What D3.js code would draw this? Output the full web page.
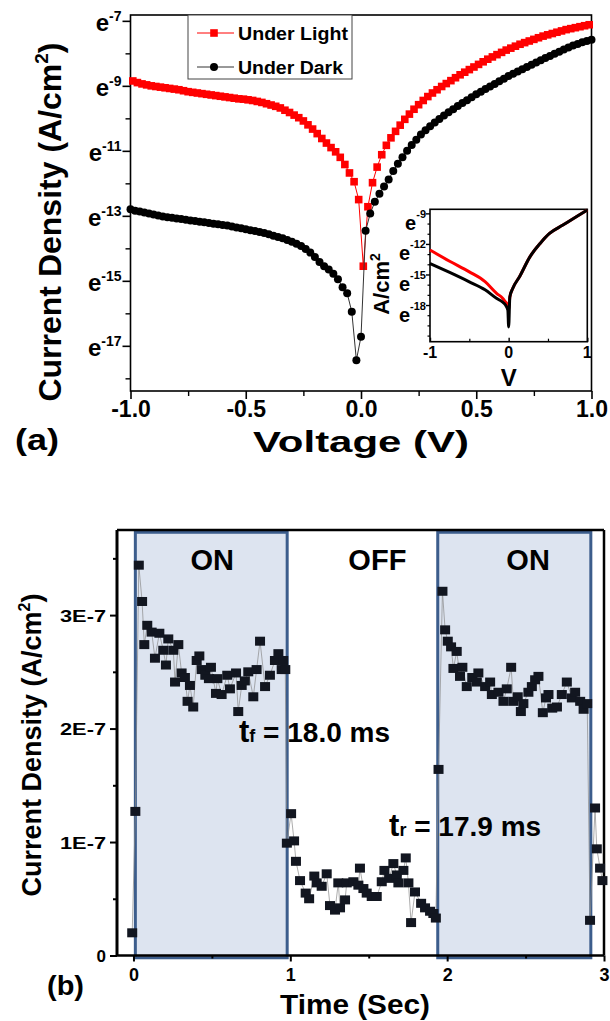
<!DOCTYPE html>
<html><head><meta charset="utf-8">
<script src="https://cdn.jsdelivr.net/npm/d3@7"></script>
<style>
body{margin:0;background:#fff}
text{font-family:Arial,"Liberation Sans",sans-serif;font-weight:bold;fill:#000}
</style>
</head><body>
<svg id="c" width="610" height="1021"></svg>
<script>
// ---------- Panel (a) data: J-V (natural-log exponent of current density) ----------
const lightV = [-0.99,-0.97,-0.95,-0.93,-0.91,-0.89,-0.87,-0.85,-0.83,-0.81,-0.79,-0.77,-0.75,-0.73,-0.71,-0.69,-0.67,-0.65,-0.63,-0.61,-0.59,-0.57,-0.55,-0.53,-0.51,-0.49,-0.47,-0.45,-0.43,-0.41,-0.39,-0.37,-0.35,-0.33,-0.31,-0.29,-0.27,-0.25,-0.23,-0.21,-0.19,-0.17,-0.15,-0.13,-0.11,-0.09,-0.07,-0.05,-0.03,-0.01,0.01,0.03,0.05,0.07,0.09,0.11,0.13,0.15,0.17,0.19,0.21,0.23,0.25,0.27,0.29,0.31,0.33,0.35,0.37,0.39,0.41,0.43,0.45,0.47,0.49,0.51,0.53,0.55,0.57,0.59,0.61,0.63,0.65,0.67,0.69,0.71,0.73,0.75,0.77,0.79,0.81,0.83,0.85,0.87,0.89,0.91,0.93,0.95,0.97,0.99];
const lightExp = [-8.85,-8.90,-8.94,-8.97,-9.00,-9.02,-9.04,-9.06,-9.08,-9.10,-9.12,-9.15,-9.18,-9.20,-9.22,-9.24,-9.26,-9.28,-9.30,-9.32,-9.34,-9.36,-9.38,-9.40,-9.41,-9.43,-9.45,-9.48,-9.51,-9.55,-9.59,-9.63,-9.68,-9.75,-9.82,-9.90,-9.98,-10.08,-10.20,-10.33,-10.47,-10.62,-10.76,-10.90,-11.03,-11.20,-11.42,-11.68,-11.95,-12.50,-14.55,-12.72,-11.98,-11.50,-11.12,-10.83,-10.60,-10.40,-10.21,-10.03,-9.87,-9.72,-9.58,-9.45,-9.33,-9.22,-9.12,-9.02,-8.93,-8.84,-8.75,-8.66,-8.58,-8.50,-8.42,-8.34,-8.26,-8.18,-8.11,-8.04,-7.97,-7.90,-7.84,-7.78,-7.72,-7.67,-7.62,-7.57,-7.52,-7.47,-7.43,-7.39,-7.35,-7.31,-7.27,-7.24,-7.21,-7.18,-7.15,-7.12];
const darkV = [-1.00,-0.98,-0.96,-0.94,-0.92,-0.90,-0.88,-0.86,-0.84,-0.82,-0.80,-0.78,-0.76,-0.74,-0.72,-0.70,-0.68,-0.66,-0.64,-0.62,-0.60,-0.58,-0.56,-0.54,-0.52,-0.50,-0.48,-0.46,-0.44,-0.42,-0.40,-0.38,-0.36,-0.34,-0.32,-0.30,-0.28,-0.26,-0.24,-0.22,-0.20,-0.18,-0.16,-0.14,-0.12,-0.10,-0.08,-0.06,-0.04,-0.02,0.00,0.02,0.04,0.06,0.08,0.10,0.12,0.14,0.16,0.18,0.20,0.22,0.24,0.26,0.28,0.30,0.32,0.34,0.36,0.38,0.40,0.42,0.44,0.46,0.48,0.50,0.52,0.54,0.56,0.58,0.60,0.62,0.64,0.66,0.68,0.70,0.72,0.74,0.76,0.78,0.80,0.82,0.84,0.86,0.88,0.90,0.92,0.94,0.96,0.98,1.00];
const darkExp = [-12.80,-12.84,-12.87,-12.90,-12.93,-12.96,-12.99,-13.02,-13.04,-13.06,-13.08,-13.10,-13.12,-13.14,-13.16,-13.18,-13.20,-13.22,-13.24,-13.26,-13.28,-13.30,-13.33,-13.36,-13.38,-13.41,-13.44,-13.47,-13.50,-13.53,-13.57,-13.61,-13.65,-13.69,-13.74,-13.80,-13.86,-13.93,-14.02,-14.13,-14.27,-14.42,-14.55,-14.65,-14.78,-14.95,-15.20,-15.38,-15.95,-17.44,-16.72,-13.46,-12.93,-12.57,-12.32,-12.10,-11.88,-11.62,-11.40,-11.20,-11.00,-10.82,-10.66,-10.50,-10.37,-10.24,-10.13,-10.02,-9.91,-9.81,-9.72,-9.62,-9.53,-9.44,-9.35,-9.26,-9.18,-9.10,-9.02,-8.94,-8.86,-8.78,-8.70,-8.63,-8.56,-8.49,-8.42,-8.35,-8.28,-8.21,-8.14,-8.08,-8.01,-7.95,-7.88,-7.82,-7.76,-7.71,-7.66,-7.62,-7.58];
const seriesNames = ["Under Light","Under Dark"];
const voltTicks = [-1,-0.5,0,0.5,1];
const voltMinor = [-0.75,-0.25,0.25,0.75];
const expTicks = [-17,-15,-13,-11,-9,-7];
const expMinor = [-18,-16,-14,-12,-10,-8];

// inset
const insetV = [-1,-0.75,-0.5,-0.3,-0.15,-0.08,-0.04,-0.01,0,0.015,0.05,0.14,0.27,0.4,0.52,0.69,0.86,1.0];
const insetLight = [-12.6,-13.7,-14.74,-15.7,-16.87,-17.3,-17.7,-18.0,-18.5,-17.2,-16.4,-15.2,-13.27,-11.95,-10.97,-10.15,-9.33,-8.67];
const insetDark = [-13.92,-14.8,-15.72,-16.5,-17.36,-17.7,-18.0,-18.5,-20.15,-17.2,-16.4,-15.2,-13.27,-11.95,-10.97,-10.15,-9.33,-8.67];
const insetVTicks = [-1,0,1];
const insetVMinor = [-0.5,0.5];
const insetExpTicks = [-18,-15,-12,-9];
const insetExpMinor = [-21,-20,-19,-17,-16,-14,-13,-11,-10];

// ---------- Panel (b) data: transient photoresponse (units of 1E-7 A/cm2) ----------
const timeS = [-0.008,0.012,0.034,0.055,0.069,0.088,0.116,0.137,0.165,0.19,0.207,0.222,0.254,0.265,0.286,0.307,0.328,0.345,0.36,0.381,0.403,0.42,0.435,0.458,0.481,0.494,0.526,0.535,0.562,0.598,0.615,0.654,0.668,0.69,0.71,0.732,0.764,0.785,0.807,0.839,0.87,0.902,0.924,0.945,0.955,0.968,0.978,1.005,1.024,1.036,1.062,1.098,1.12,1.153,1.168,1.2,1.232,1.253,1.285,1.306,1.317,1.349,1.36,1.402,1.434,1.444,1.466,1.487,1.519,1.551,1.583,1.6,1.63,1.657,1.679,1.689,1.721,1.736,1.753,1.77,1.795,1.834,1.859,1.891,1.912,1.928,1.945,1.97,1.987,2.004,2.025,2.04,2.061,2.082,2.097,2.125,2.16,2.189,2.199,2.242,2.274,2.285,2.327,2.359,2.38,2.408,2.422,2.45,2.47,2.486,2.518,2.54,2.561,2.582,2.61,2.63,2.646,2.67,2.7,2.731,2.763,2.795,2.816,2.848,2.87,2.893,2.911,2.943,2.954,2.975,2.99];
const densS = [0.20,1.27,3.44,3.12,2.74,2.91,2.85,2.62,2.84,2.69,2.56,2.79,2.69,2.41,2.74,2.49,2.45,2.24,2.38,2.19,2.60,2.64,2.52,2.47,2.44,2.54,2.31,2.44,2.30,2.47,2.35,2.49,2.15,2.38,2.42,2.50,2.28,2.52,2.77,2.37,2.47,2.60,2.66,2.52,2.60,2.52,0.99,1.25,1.01,0.83,0.66,0.55,0.50,0.70,0.64,0.61,0.72,0.44,0.40,0.64,0.42,0.49,0.64,0.65,0.62,0.77,0.59,0.55,0.52,0.52,0.65,0.75,0.68,0.81,0.71,0.64,0.75,0.86,0.64,0.29,0.56,0.46,0.42,0.39,0.37,0.33,1.64,3.21,2.87,2.77,2.72,2.53,2.68,2.46,2.54,2.37,2.45,2.41,2.49,2.37,2.41,2.30,2.32,2.24,2.35,2.54,2.24,2.28,2.15,2.22,2.32,2.37,2.43,2.46,2.14,2.27,2.30,2.18,2.19,2.30,2.41,2.27,2.32,2.24,2.17,2.22,0.31,1.30,0.94,0.77,0.66];
const onStart = [0.012,1.94];
const onEnd = [0.98,2.916];
const phaseLabels = ["ON","OFF","ON"];
const phaseT = [0.502,1.555,2.516];
const timeTicks = [0,1,2,3];
const timeMinor = [0.5,1.5,2.5];
const densTicks = [0,1,2,3];
const densMinor = [0.5,1.5,2.5,3.5];
const annotations = [{main:"t",sub:"f",rest:" = 18.0 ms",t:0.673,v:1.884},{main:"t",sub:"r",rest:" = 17.9 ms",t:1.63,v:1.05}];

const svg = d3.select("#c");

// ================= Panel (a) =================
const xA = d3.scaleLinear().domain([-1,1]).range([130.5,591.5]);
const yA = d3.scaleLinear().domain([-18.39,-6.82]).range([391,15]);
const gA = svg.append("g");

function styleAxis(g, w){ g.select(".domain").remove(); g.selectAll("line").attr("stroke","#000").attr("stroke-width",w); }

// frame
gA.append("rect").attr("x",xA.range()[0]).attr("y",yA.range()[1])
  .attr("width",xA.range()[1]-xA.range()[0]).attr("height",yA.range()[0]-yA.range()[1])
  .attr("fill","none").attr("stroke","#000").attr("stroke-width",1.6);

// x axis
const axA = gA.append("g").attr("transform",`translate(0,${yA.range()[0]})`)
  .call(d3.axisBottom(xA).tickValues(voltTicks).tickSize(8).tickSizeOuter(0).tickFormat(d=>d.toFixed(1)));
styleAxis(axA,1.6);
axA.selectAll("text").attr("font-size",23).attr("dy","0.66em");
const axAm = gA.append("g").attr("transform",`translate(0,${yA.range()[0]})`)
  .call(d3.axisBottom(xA).tickValues(voltMinor).tickSize(5).tickFormat(""));
styleAxis(axAm,1.4);

// y axis
const ayA = gA.append("g").attr("transform",`translate(${xA.range()[0]},0)`)
  .call(d3.axisLeft(yA).tickValues(expTicks).tickSize(8).tickFormat(""));
styleAxis(ayA,1.6);
const ayAm = gA.append("g").attr("transform",`translate(${xA.range()[0]},0)`)
  .call(d3.axisLeft(yA).tickValues(expMinor).tickSize(5).tickFormat(""));
styleAxis(ayAm,1.4);
expTicks.forEach(e=>{
  const t = gA.append("text").attr("x",xA.range()[0]-9).attr("y",yA(e)+10).attr("text-anchor","end").attr("font-size",24);
  t.append("tspan").text("e");
  t.append("tspan").attr("dy",-10).attr("font-size",14).text(e);
});
// axis titles
{
  const t = gA.append("text").attr("transform","translate(61,222) rotate(-90)").attr("text-anchor","middle").attr("font-size",32);
  t.append("tspan").text("Current Density (A/cm");
  t.append("tspan").attr("dy",-13).attr("font-size",19).text("2");
  t.append("tspan").attr("dy",13).text(")");
}
gA.append("text").attr("x",(xA.range()[0]+xA.range()[1])/2).attr("y",452).attr("text-anchor","middle").attr("font-size",30)
  .attr("textLength",216).attr("lengthAdjust","spacingAndGlyphs").text("Voltage (V)");
gA.append("text").attr("x",15).attr("y",450).attr("font-size",30).attr("textLength",44).attr("lengthAdjust","spacingAndGlyphs").text("(a)");

// data
const lineA = d3.line().x(d=>xA(d[0])).y(d=>yA(d[1]));
const lightPts = lightV.map((v,i)=>[v,lightExp[i]]);
const darkPts = darkV.map((v,i)=>[v,darkExp[i]]);
gA.append("path").datum(lightPts).attr("d",lineA).attr("fill","none").attr("stroke","#f00").attr("stroke-width",1);
gA.selectAll(".sq").data(lightPts).enter().append("rect")
  .attr("x",d=>xA(d[0])-3.8).attr("y",d=>yA(d[1])-3.8).attr("width",7.6).attr("height",7.6).attr("fill","#f00");
gA.append("path").datum(darkPts).attr("d",lineA).attr("fill","none").attr("stroke","#333").attr("stroke-width",1);
gA.selectAll(".ci").data(darkPts).enter().append("circle")
  .attr("cx",d=>xA(d[0])).attr("cy",d=>yA(d[1])).attr("r",4).attr("fill","#000");

// legend
const lg = gA.append("g");
lg.append("rect").attr("x",188).attr("y",15).attr("width",164).attr("height",64).attr("fill","#fff").attr("stroke","#444").attr("stroke-width",1);
const legendW = [110,105];
seriesNames.forEach((nm,i)=>{
  const y = 33 + i*34;
  const col = i===0 ? "#f00" : "#333";
  lg.append("line").attr("x1",197).attr("x2",234).attr("y1",y).attr("y2",y).attr("stroke",col).attr("stroke-width",1);
  if(i===0) lg.append("rect").attr("x",210.2).attr("y",y-3.8).attr("width",7.6).attr("height",7.6).attr("fill","#f00");
  else lg.append("circle").attr("cx",214).attr("cy",y).attr("r",4).attr("fill","#000");
  lg.append("text").attr("x",238).attr("y",y+6.5).attr("font-size",18).attr("textLength",legendW[i]).attr("lengthAdjust","spacingAndGlyphs").text(nm);
});

// ---------- inset ----------
const xI = d3.scaleLinear().domain([-1,1]).range([430,587.3]);
const yI = d3.scaleLinear().domain([-21.6,-8.6]).range([341.7,209.3]);
const gI = svg.append("g");
gI.append("rect").attr("x",xI.range()[0]).attr("y",yI.range()[1]).attr("width",xI.range()[1]-xI.range()[0])
  .attr("height",yI.range()[0]-yI.range()[1]).attr("fill","#fff").attr("stroke","#000").attr("stroke-width",1.6);
const axI = gI.append("g").attr("transform",`translate(0,${yI.range()[0]})`)
  .call(d3.axisTop(xI).tickValues(insetVTicks).tickSize(4).tickFormat(""));
styleAxis(axI,1.4);
const axIm = gI.append("g").attr("transform",`translate(0,${yI.range()[0]})`)
  .call(d3.axisTop(xI).tickValues(insetVMinor).tickSize(3).tickFormat(""));
styleAxis(axIm,1.2);
insetVTicks.forEach(v=>{
  gI.append("text").attr("x",xI(v)).attr("y",yI.range()[0]+16).attr("text-anchor","middle").attr("font-size",16).text(v);
});
const ayI = gI.append("g").attr("transform",`translate(${xI.range()[0]},0)`)
  .call(d3.axisLeft(yI).tickValues(insetExpTicks).tickSize(4).tickFormat(""));
styleAxis(ayI,1.4);
const ayIm = gI.append("g").attr("transform",`translate(${xI.range()[0]},0)`)
  .call(d3.axisLeft(yI).tickValues(insetExpMinor).tickSize(2.5).tickFormat(""));
styleAxis(ayIm,1.2);
insetExpTicks.forEach(e=>{
  const t = gI.append("text").attr("x",xI.range()[0]-4).attr("y",yI(e)+16.5).attr("text-anchor","end").attr("font-size",20);
  t.append("tspan").text("e");
  t.append("tspan").attr("dy",-12).attr("font-size",11).text(e);
});
gI.append("text").attr("x",(xI.range()[0]+xI.range()[1])/2).attr("y",386).attr("text-anchor","middle").attr("font-size",24).text("V");
{
  const t = gI.append("text").attr("transform","translate(389,284) rotate(-90)").attr("text-anchor","middle").attr("font-size",22);
  t.append("tspan").text("A/cm");
  t.append("tspan").attr("dy",-9).attr("font-size",14).text("2");
}
const lineI = d3.line().x((d,i)=>xI(insetV[i])).y(d=>yI(d)).curve(d3.curveMonotoneX);
gI.append("path").datum(insetLight).attr("d",lineI).attr("fill","none").attr("stroke","#f00").attr("stroke-width",3);
gI.append("path").datum(insetDark).attr("d",lineI).attr("fill","none").attr("stroke","#000").attr("stroke-width",3);

// ================= Panel (b) =================
const xB = d3.scaleLinear().domain([-0.105,3.0]).range([117,604]);
const yB = d3.scaleLinear().domain([0,3.75]).range([955.5,530]);
const gB = svg.append("g");

// ON regions
onStart.forEach((s,i)=>{
  gB.append("rect").attr("x",xB(s)).attr("y",yB(3.73)).attr("width",xB(onEnd[i])-xB(s)).attr("height",yB(-0.02)-yB(3.73))
    .attr("fill","#dde4f0").attr("stroke","#3c5d8c").attr("stroke-width",3);
});

// frame and axes
gB.append("line").attr("x1",xB.range()[0]).attr("x2",xB.range()[1]).attr("y1",yB.range()[1]).attr("y2",yB.range()[1]).attr("stroke","#000").attr("stroke-width",2.5);
gB.append("line").attr("x1",xB.range()[1]).attr("x2",xB.range()[1]).attr("y1",yB.range()[1]).attr("y2",yB.range()[0]).attr("stroke","#000").attr("stroke-width",2.5);
gB.append("line").attr("x1",xB.range()[0]).attr("x2",xB.range()[1]).attr("y1",yB.range()[0]).attr("y2",yB.range()[0]).attr("stroke","#000").attr("stroke-width",2.5);
gB.append("line").attr("x1",xB.range()[0]).attr("x2",xB.range()[0]).attr("y1",yB.range()[1]).attr("y2",yB.range()[0]).attr("stroke","#000").attr("stroke-width",3);

const axB = gB.append("g").attr("transform",`translate(0,${yB.range()[0]})`)
  .call(d3.axisBottom(xB).tickValues(timeTicks).tickSize(6).tickFormat(d=>d));
styleAxis(axB,2);
axB.selectAll("text").attr("font-size",18).attr("dy","0.9em");
const axBm = gB.append("g").attr("transform",`translate(0,${yB.range()[0]})`)
  .call(d3.axisBottom(xB).tickValues(timeMinor).tickSize(3).tickFormat(""));
styleAxis(axBm,2);
const ayB = gB.append("g").attr("transform",`translate(${xB.range()[0]},0)`)
  .call(d3.axisLeft(yB).tickValues(densTicks).tickSize(7).tickFormat(d=>d===0?"0":d+"E-7"));
styleAxis(ayB,2);
ayB.selectAll("text").attr("font-size",17).attr("dy","0.36em").attr("x",-11)
  .each(function(d){ if(d!==0) d3.select(this).attr("textLength",46).attr("lengthAdjust","spacingAndGlyphs"); });
const ayBm = gB.append("g").attr("transform",`translate(${xB.range()[0]},0)`)
  .call(d3.axisLeft(yB).tickValues(densMinor).tickSize(4).tickFormat(""));
styleAxis(ayBm,2);

// data
const ptsB = timeS.map((t,i)=>[t,densS[i]]);
gB.append("path").datum(ptsB).attr("d",d3.line().x(d=>xB(d[0])).y(d=>yB(d[1])))
  .attr("fill","none").attr("stroke","#8a8a8a").attr("stroke-width",0.7);
gB.selectAll(".bs").data(ptsB).enter().append("rect")
  .attr("x",d=>xB(d[0])-5).attr("y",d=>yB(d[1])-4.5).attr("width",10).attr("height",9).attr("fill","#121620");

// phase labels
phaseLabels.forEach((l,i)=>{
  gB.append("text").attr("x",xB(phaseT[i])).attr("y",yB(3.49)+10).attr("text-anchor","middle")
    .attr("font-family","Lato, Open Sans, sans-serif").attr("font-size",29).text(l);
});
annotations.forEach(a=>{
  const t = gB.append("text").attr("x",xB(a.t)).attr("y",yB(a.v)).attr("font-family","Lato, Open Sans, sans-serif").attr("font-size",28);
  t.append("tspan").attr("font-size",31).text(a.main);
  t.append("tspan").attr("font-size",18).text(a.sub);
  t.append("tspan").text(a.rest);
});

// axis titles
{
  const t = gB.append("text").attr("transform","translate(41,745) rotate(-90)").attr("text-anchor","middle").attr("font-size",27);
  t.append("tspan").text("Current Density (A/cm");
  t.append("tspan").attr("dy",-11).attr("font-size",16).text("2");
  t.append("tspan").attr("dy",11).text(")");
}
gB.append("text").attr("x",355).attr("y",1014).attr("text-anchor","middle").attr("font-size",27)
  .attr("textLength",150).attr("lengthAdjust","spacingAndGlyphs").text("Time (Sec)");
gB.append("text").attr("x",47).attr("y",995).attr("font-size",27).attr("textLength",37).attr("lengthAdjust","spacingAndGlyphs").text("(b)");
</script>
</body></html>
